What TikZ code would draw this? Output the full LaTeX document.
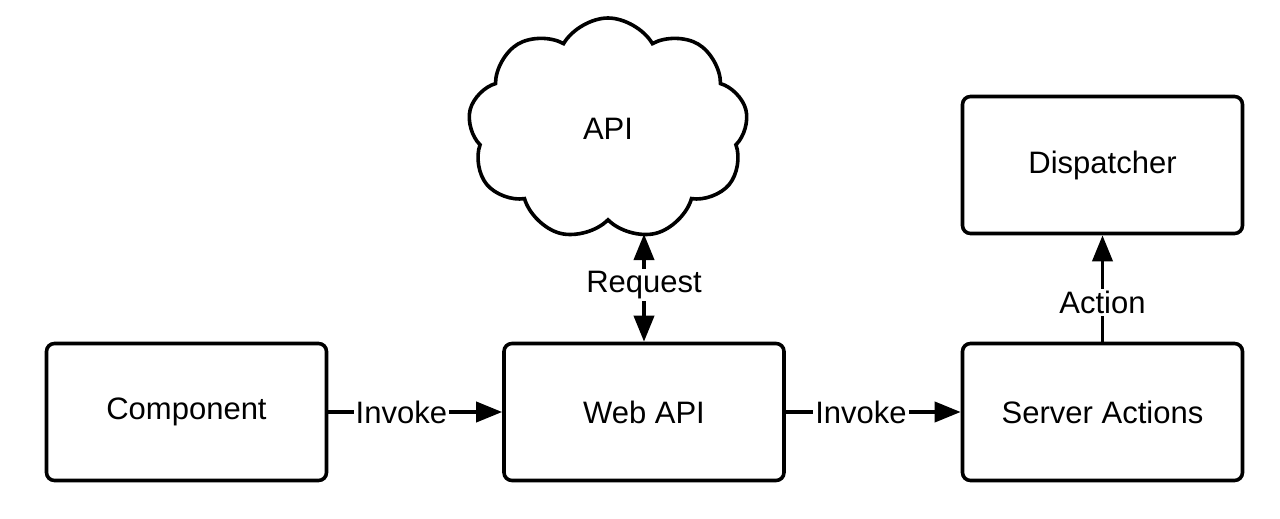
\documentclass[tikz,border=0pt]{standalone}
\usepackage{fontspec}
\setmainfont{Liberation Sans}
\usetikzlibrary{arrows.meta,positioning,shapes.symbols}
\tikzset{
  nd/.style  = {draw=black, line width=1.8pt, rounded corners=4pt, align=center,
                font=\fontsize{15.5}{18}\selectfont, inner sep=0pt,
                minimum width=140pt, minimum height=68.5pt},
  cl/.style  = {draw=black, line width=1.8pt, cloud, cloud puffs=9, cloud puff arc=120,
                cloud ignores aspect, font=\fontsize{15.5}{18}\selectfont,
                minimum width=140pt, minimum height=111pt},
  ar/.style  = {-{Triangle[length=13pt, width=10pt]}, line width=1.9pt},
  arb/.style = {{Triangle[length=13pt, width=10pt]}-{Triangle[length=13pt, width=10pt]},
                line width=1.9pt},
  lbl/.style = {fill=white, font=\fontsize{15.5}{18}\selectfont, inner sep=1pt},
}
\begin{document}
\begin{tikzpicture}[x=0.5pt, y=-0.5pt]
  \useasboundingbox (0,0) rectangle (1280,519);
  % boxes
  \node[nd] (comp)   at (186.5,412) {Component};
  \node[nd] (web)    at (644,412)   {Web API};
  \node[nd] (server) at (1102.5,412) {Server Actions};
  \node[nd] (disp)   at (1102.5,165) {Dispatcher};
  \node[cl] (api)    at (608,129)   {API};
  \coordinate (reqtop) at (644,234);
  % connectors
  \draw[ar]  (comp)   -- node[lbl, pos=0.42] {Invoke} (web);
  \draw[ar]  (web)    -- node[lbl, pos=0.43] {Invoke} (server);
  \draw[arb] (web.north) -- node[lbl, pos=0.53] {Request} (reqtop);
  \draw[ar]  (server) -- node[lbl, pos=0.37] {Action} (disp);
\end{tikzpicture}
\end{document}
